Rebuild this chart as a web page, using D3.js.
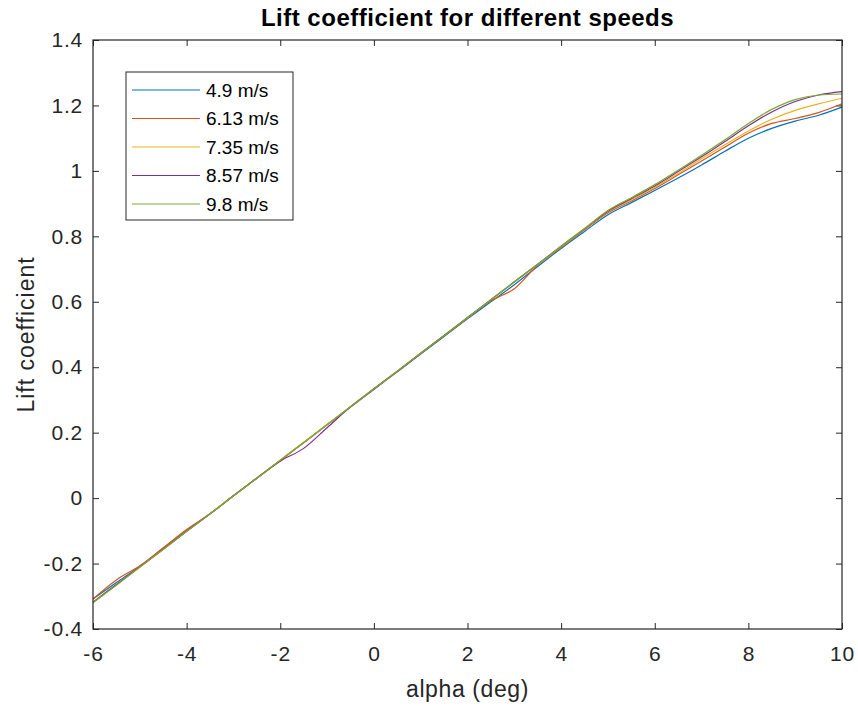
<!DOCTYPE html>
<html>
<head>
<meta charset="utf-8">
<script src="https://cdn.jsdelivr.net/npm/d3@7"></script>
<style>
  body { margin: 0; background: #fff; }
  svg { display: block; font-family: "Liberation Sans", Arial, sans-serif; }
</style>
</head>
<body>
<div id="chart"></div>
<script>
const alpha = [-6, -5.5, -5, -4.5, -4, -3.5, -3, -2.5, -2, -1.5, -1, -0.5, 0, 0.5, 1, 1.5, 2, 2.5, 3, 3.5, 4, 4.5, 5, 5.5, 6, 6.5, 7, 7.5, 8, 8.5, 9, 9.5, 10];

const cl_49 = [-0.308, -0.258, -0.209, -0.154, -0.100, -0.048, 0.007, 0.061, 0.115, 0.169, 0.224, 0.278, 0.332, 0.386, 0.440, 0.494, 0.548, 0.600, 0.652, 0.708, 0.763, 0.815, 0.866, 0.903, 0.940, 0.978, 1.018, 1.060, 1.100, 1.130, 1.152, 1.170, 1.195];
const cl_613 = [-0.308, -0.250, -0.207, -0.152, -0.096, -0.048, 0.007, 0.061, 0.115, 0.169, 0.224, 0.278, 0.333, 0.387, 0.442, 0.496, 0.550, 0.603, 0.640, 0.712, 0.766, 0.820, 0.872, 0.908, 0.946, 0.988, 1.030, 1.073, 1.115, 1.145, 1.160, 1.178, 1.205];
const cl_735 = [-0.318, -0.264, -0.210, -0.156, -0.101, -0.048, 0.007, 0.061, 0.116, 0.170, 0.225, 0.279, 0.334, 0.388, 0.443, 0.497, 0.551, 0.606, 0.660, 0.714, 0.768, 0.822, 0.875, 0.912, 0.950, 0.992, 1.037, 1.080, 1.122, 1.158, 1.185, 1.205, 1.222];
const cl_857 = [-0.318, -0.264, -0.210, -0.156, -0.101, -0.048, 0.007, 0.061, 0.113, 0.152, 0.215, 0.279, 0.334, 0.388, 0.443, 0.497, 0.552, 0.606, 0.661, 0.715, 0.770, 0.823, 0.877, 0.915, 0.954, 0.998, 1.043, 1.090, 1.138, 1.180, 1.212, 1.232, 1.242];
const cl_98 = [-0.320, -0.266, -0.211, -0.157, -0.102, -0.048, 0.007, 0.061, 0.116, 0.170, 0.225, 0.279, 0.334, 0.388, 0.443, 0.497, 0.552, 0.606, 0.661, 0.715, 0.770, 0.824, 0.879, 0.918, 0.958, 1.002, 1.048, 1.095, 1.145, 1.188, 1.218, 1.232, 1.235];

const speeds = ["4.9 m/s", "6.13 m/s", "7.35 m/s", "8.57 m/s", "9.8 m/s"];
const colors = ["#0072BD", "#D95319", "#EDB120", "#7E2F8E", "#77AC30"];
const xTicks = [-6, -4, -2, 0, 2, 4, 6, 8, 10];
const yTicks = [-0.4, -0.2, 0, 0.2, 0.4, 0.6, 0.8, 1, 1.2, 1.4];

const series = [cl_49, cl_613, cl_735, cl_857, cl_98];

const width = 858, height = 706;
const margin = {top: 40, right: 16, bottom: 77, left: 93};

const svg = d3.select("#chart").append("svg")
  .attr("width", width)
  .attr("height", height);

const x = d3.scaleLinear().domain([-6, 10]).range([margin.left, width - margin.right]);
const y = d3.scaleLinear().domain([-0.4, 1.4]).range([height - margin.bottom, margin.top]);

const axisColor = "#262626";
const fontSize = 21;
// matlab prints a plain hyphen for negatives
const fmt = d => String(+d.toFixed(1));

// bottom / top axes, ticks pointing inward
svg.append("g")
  .attr("transform", `translate(0,${y(-0.4)})`)
  .call(d3.axisBottom(x).tickValues(xTicks).tickFormat(fmt).tickSizeInner(-6).tickSizeOuter(0).tickPadding(17))
  .call(g => g.select(".domain").remove());
svg.append("g")
  .attr("transform", `translate(0,${y(1.4)})`)
  .call(d3.axisTop(x).tickValues(xTicks).tickFormat("").tickSizeInner(-6).tickSizeOuter(0))
  .call(g => g.select(".domain").remove());
svg.append("g")
  .attr("transform", `translate(${x(-6)},0)`)
  .call(d3.axisLeft(y).tickValues(yTicks).tickFormat(fmt).tickSizeInner(-6).tickSizeOuter(0).tickPadding(10))
  .call(g => g.select(".domain").remove());
svg.append("g")
  .attr("transform", `translate(${x(10)},0)`)
  .call(d3.axisRight(y).tickValues(yTicks).tickFormat("").tickSizeInner(-6).tickSizeOuter(0))
  .call(g => g.select(".domain").remove());

svg.selectAll(".tick line").attr("stroke", axisColor);
svg.selectAll(".tick text")
  .attr("fill", axisColor)
  .style("font-size", fontSize + "px")
  .style("letter-spacing", "0.8px")
  .style("font-family", "'Liberation Sans', Arial, sans-serif");

// lines
const line = d3.line()
  .x((d, i) => x(alpha[i]))
  .y(d => y(d))
  .curve(d3.curveMonotoneX);

svg.append("g")
  .selectAll("path")
  .data(series)
  .join("path")
  .attr("d", line)
  .attr("fill", "none")
  .attr("stroke", (d, i) => colors[i])
  .attr("stroke-width", 1.2);

// box
svg.append("rect")
  .attr("x", x(-6))
  .attr("y", y(1.4))
  .attr("width", x(10) - x(-6))
  .attr("height", y(-0.4) - y(1.4))
  .attr("fill", "none")
  .attr("stroke", axisColor)
  .attr("stroke-width", 1.2);

// title and labels
svg.append("text")
  .attr("x", (x(-6) + x(10)) / 2)
  .attr("y", 26)
  .attr("text-anchor", "middle")
  .style("font-size", "24px")
  .style("letter-spacing", "0.5px")
  .style("font-weight", "bold")
  .attr("fill", "#000")
  .text("Lift coefficient for different speeds");

svg.append("text")
  .attr("x", (x(-6) + x(10)) / 2)
  .attr("y", 697)
  .attr("text-anchor", "middle")
  .style("font-size", "23px")
  .style("letter-spacing", "0.6px")
  .attr("fill", axisColor)
  .text("alpha (deg)");

svg.append("text")
  .attr("transform", `translate(34,${(y(-0.4) + y(1.4)) / 2}) rotate(-90)`)
  .attr("text-anchor", "middle")
  .style("font-size", "23px")
  .style("letter-spacing", "1px")
  .attr("fill", axisColor)
  .text("Lift coefficient");

// legend
const lg = svg.append("g").attr("transform", "translate(126,72)");
lg.append("rect")
  .attr("width", 167)
  .attr("height", 148)
  .attr("fill", "#fff")
  .attr("stroke", axisColor)
  .attr("stroke-width", 1);
const rows = lg.selectAll("g.row")
  .data(speeds)
  .join("g")
  .attr("class", "row")
  .attr("transform", (d, i) => `translate(0,${18 + i * 28.5})`);
rows.append("line")
  .attr("x1", 6).attr("x2", 74)
  .attr("stroke", (d, i) => colors[i])
  .attr("stroke-width", 1.2);
rows.append("text")
  .attr("x", 80)
  .attr("dy", "0.35em")
  .style("font-size", "19px")
  .attr("fill", "#000")
  .text(d => d);
</script>
</body>
</html>
